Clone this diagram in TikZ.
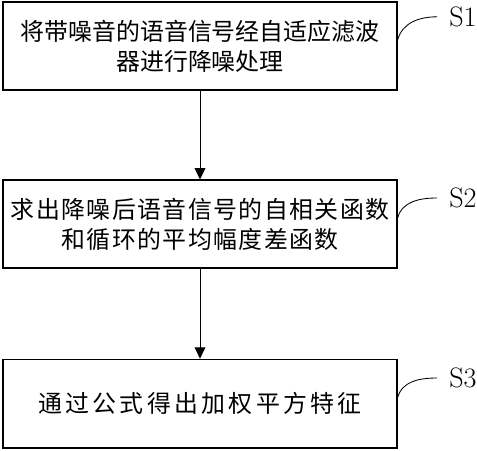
\documentclass[tikz,border=0pt]{standalone}
\usepackage{fontspec}
\usetikzlibrary{arrows.meta, positioning}
\newfontfamily\cjkfont{Noto Sans CJK SC}

\begin{document}
\begin{tikzpicture}[
            box/.style={draw, line width=0.9pt, minimum width=9.85cm, minimum height=2.2cm, align=center, font=\cjkfont\fontsize{17}{21.3}\selectfont},
            lab/.style={anchor=west, inner xsep=0.3cm, font=\fontsize{20}{24}\selectfont},
            arr/.style={-{Triangle[width=0.27cm, length=0.28cm]}, line width=0.6pt},
            lead/.style={line width=0.6pt}
        ]
            \useasboundingbox (0,0) rectangle (11.925,-11.25);
            % steps
            \node[box] (s1) at (5,-1.15) {将带噪音的语音信号经自适应滤波\\器进行降噪处理};
            \node[box, font=\cjkfont\fontsize{17}{21.3}\selectfont\addfontfeature{LetterSpace=6}] (s2) at (5,-5.6) {求出降噪后语音信号的自相关函数\\和循环的平均幅度差函数};
            \node[box, minimum height=2.22cm, font=\cjkfont\fontsize{17}{21.3}\selectfont\addfontfeature{LetterSpace=14}] (s3) at (5,-10.09) {通过公式得出加权平方特征};
            \draw[arr] (s1) -- (s2);
            \draw[arr] (s2) -- (s3);
            % step labels
            \node[lab] (l1) at (10.925,-0.42) {S1};
            \node[lab] (l2) at (10.925,-4.95) {S2};
            \node[lab] (l3) at (10.925,-9.45) {S3};
            \draw[lead] ([yshift=0.15cm]s1.east) to[out=75, in=180] (l1.west);
            \draw[lead] ([yshift=0.15cm]s2.east) to[out=75, in=180] (l2.west);
            \draw[lead] ([yshift=0.15cm]s3.east) to[out=75, in=180] (l3.west);
        \end{tikzpicture}
\end{document}
